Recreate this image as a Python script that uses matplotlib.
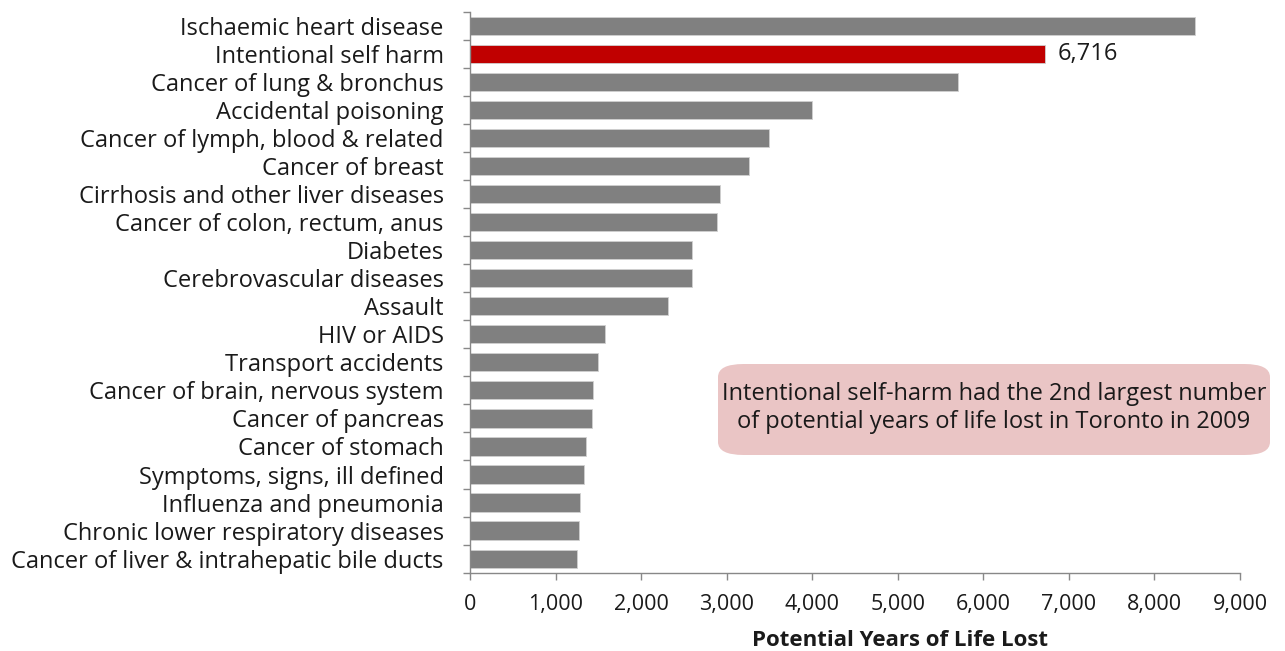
import matplotlib
matplotlib.use("Agg")
import matplotlib.pyplot as plt
from matplotlib.patches import FancyBboxPatch
from matplotlib.ticker import FuncFormatter, FixedLocator

causes = [
    "Ischaemic heart disease",
    "Intentional self harm",
    "Cancer of lung & bronchus",
    "Accidental poisoning",
    "Cancer of lymph, blood & related",
    "Cancer of breast",
    "Cirrhosis and other liver diseases",
    "Cancer of colon, rectum, anus",
    "Diabetes",
    "Cerebrovascular diseases",
    "Assault",
    "HIV or AIDS",
    "Transport accidents",
    "Cancer of brain, nervous system",
    "Cancer of pancreas",
    "Cancer of stomach",
    "Symptoms, signs, ill defined",
    "Influenza and pneumonia",
    "Chronic lower respiratory diseases",
    "Cancer of liver & intrahepatic bile ducts",
]
pyll = [8470, 6716, 5705, 4000, 3495, 3255, 2920, 2890, 2600, 2600,
        2310, 1575, 1500, 1440, 1425, 1350, 1330, 1290, 1275, 1255]
highlight = "Intentional self harm"
xticks = list(range(0, 9001, 1000))
note = ("Intentional self-harm had the 2nd largest number\n"
        "of potential years of life lost in Toronto in 2009")

plt.rcParams["font.family"] = ["Open Sans", "DejaVu Sans"]
text_color = "#1a1a1a"
fs = 17

fig = plt.figure(figsize=(12.85, 6.51), dpi=100)
ax = fig.add_axes([0.3658, 0.1203, 0.9650 - 0.3658, 0.982 - 0.1203])

ypos = list(range(len(causes)))
colors = ["#C00000" if c == highlight else "#808080" for c in causes]
ax.barh(ypos, pyll, height=0.65, color=colors, edgecolor="#d0d0d0", linewidth=0.6)

ax.set_ylim(len(causes) - 0.5, -0.5)
ax.set_xlim(0, 9000)

ax.set_yticks(ypos)
ax.set_yticklabels(causes, fontsize=fs, color=text_color)
ax.tick_params(axis="y", which="major", length=0, pad=19)
ax.yaxis.set_minor_locator(FixedLocator([i - 0.5 for i in range(len(causes) + 1)]))
ax.tick_params(axis="y", which="minor", length=5, color="#888888", width=1)

ax.set_xticks(xticks)
ax.xaxis.set_major_formatter(FuncFormatter(lambda v, p: f"{int(v):,}"))
ax.tick_params(axis="x", length=5, color="#888888", width=1, labelsize=15.5,
               labelcolor=text_color, pad=10)

for side in ("top", "right"):
    ax.spines[side].set_visible(False)
for side in ("left", "bottom"):
    ax.spines[side].set_color("#888888")
    ax.spines[side].set_linewidth(1)

# axis title, centred under the plotting area plus the label column offset
fig.text(900 / 1285, 1 - 641 / 651, "Potential Years of Life Lost", ha="center",
         va="center", fontsize=16, fontweight="bold", color=text_color)

# value label on the highlighted bar
hi = causes.index(highlight)
ax.text(pyll[hi] + 150, hi, f"{pyll[hi]:,}", va="center", ha="left",
        fontsize=fs, color=text_color)

# callout box
box = FancyBboxPatch((718 / 1285, 1 - 455 / 651), (1270 - 718) / 1285, (455 - 364) / 651,
                     boxstyle="round,pad=0,rounding_size=0.02",
                     transform=fig.transFigure, facecolor="#EAC5C5", edgecolor="none")
fig.patches.append(box)
fig.text((718 + 1270) / 2 / 1285, 1 - 408 / 651, note, ha="center", va="center",
         fontsize=fs, color=text_color, linespacing=1.2)

fig.savefig("out.png", dpi=100, facecolor="white")
